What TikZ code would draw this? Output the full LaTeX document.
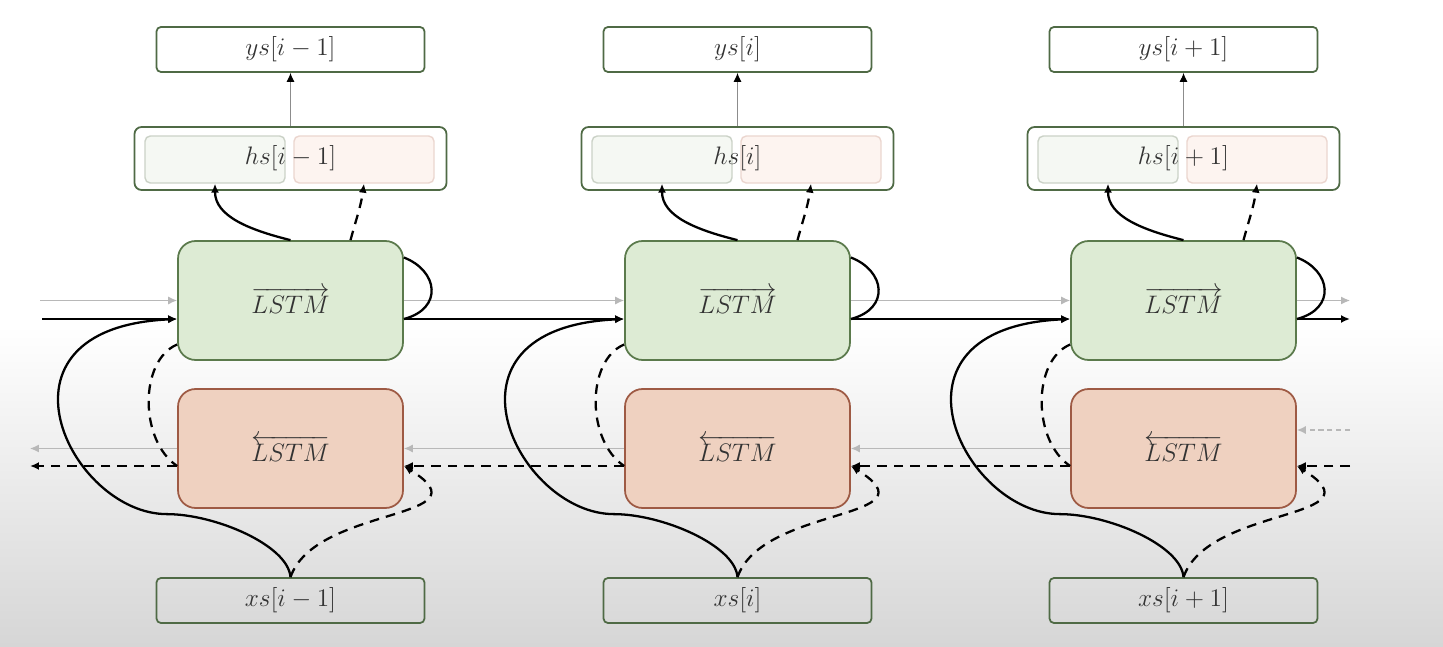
\documentclass[tikz,border=0pt]{standalone}
\usepackage{amsmath}
\usetikzlibrary{arrows.meta,calc}

\definecolor{fwfill}{HTML}{DDEBD4}
\definecolor{fwline}{HTML}{5B7A4C}
\definecolor{bwfill}{HTML}{EFD1C0}
\definecolor{bwline}{HTML}{9E5A44}
\definecolor{boxline}{HTML}{4F6A45}
\definecolor{hlfill}{HTML}{F5F8F3}
\definecolor{hlline}{HTML}{CBD2C7}
\definecolor{hrfill}{HTML}{FDF4F0}
\definecolor{hrline}{HTML}{EBD6CF}
\definecolor{bgbot}{HTML}{D6D6D6}
\definecolor{txt}{HTML}{333333}

\begin{document}
\begin{tikzpicture}[x=0.02cm, y=0.02cm,
    every node/.style={font=\fontsize{15}{17}\selectfont, text=txt},
    io/.style={rectangle, rounded corners=2.5pt, draw=boxline, line width=1pt,
               minimum width=5.36cm, minimum height=0.9cm, inner sep=0pt},
    hsbox/.style={io, rounded corners=4pt, minimum width=6.24cm, minimum height=1.26cm},
    half/.style={rectangle, rounded corners=3pt, line width=0.8pt,
                 minimum width=2.8cm, minimum height=0.94cm},
    fw/.style={rectangle, rounded corners=10pt, draw=fwline, fill=fwfill, line width=1pt,
               minimum width=4.5cm, minimum height=2.38cm, font=\fontsize{14}{16}\selectfont},
    bw/.style={fw, draw=bwline, fill=bwfill},
    e/.style={-{Latex[length=1.8mm, width=1.6mm]}},
    sol/.style={line width=1.3pt},
    dsh/.style={line width=1.3pt, dash pattern=on 5.5pt off 4pt},
    gl/.style={draw=black!28, line width=0.7pt, -{Latex[length=1.8mm, width=1.6mm]}},
    up/.style={draw=black!45, line width=0.6pt, -{Latex[length=1.8mm, width=1.6mm, color=black]}},
  ]
  % screen background
  \useasboundingbox (0,0) rectangle (1443,646);
  \fill[white] (0,0) rectangle (1443,646);
  \shade[top color=white, bottom color=bgbot] (0,0) rectangle (1443,320);

  % column i-1
  \node[io, fill=white] (ys1) at (290.5, 596.5) {$ys[i-1]$};
  \node[half, fill=hlfill, draw=hlline] (hl1) at (215, 486.5) {};
  \node[half, fill=hrfill, draw=hrline] (hr1) at (364, 486.5) {};
  \node[hsbox] (hs1) at (290.5, 487.5) {$hs[i-1]$};
  \node[fw] (fw1) at (290.5, 345.5) {$\overrightarrow{LSTM}$};
  \node[bw] (bw1) at (290.5, 197.5) {$\overleftarrow{LSTM}$};
  \node[io] (xs1) at (290.5, 45.5) {$xs[i-1]$};

  % column i
  \node[io, fill=white] (ys2) at (737.5, 596.5) {$ys[i]$};
  \node[half, fill=hlfill, draw=hlline] (hl2) at (662, 486.5) {};
  \node[half, fill=hrfill, draw=hrline] (hr2) at (811, 486.5) {};
  \node[hsbox] (hs2) at (737.5, 487.5) {$hs[i]$};
  \node[fw] (fw2) at (737.5, 345.5) {$\overrightarrow{LSTM}$};
  \node[bw] (bw2) at (737.5, 197.5) {$\overleftarrow{LSTM}$};
  \node[io] (xs2) at (737.5, 45.5) {$xs[i]$};

  % column i+1
  \node[io, fill=white] (ys3) at (1183.5, 596.5) {$ys[i+1]$};
  \node[half, fill=hlfill, draw=hlline] (hl3) at (1108, 486.5) {};
  \node[half, fill=hrfill, draw=hrline] (hr3) at (1257, 486.5) {};
  \node[hsbox] (hs3) at (1183.5, 487.5) {$hs[i+1]$};
  \node[fw] (fw3) at (1183.5, 345.5) {$\overrightarrow{LSTM}$};
  \node[bw] (bw3) at (1183.5, 197.5) {$\overleftarrow{LSTM}$};
  \node[io] (xs3) at (1183.5, 45.5) {$xs[i+1]$};

  \coordinate (fin) at (42, 327);
  \coordinate (fout) at (1350, 327);
  \coordinate (gin) at (40, 345.5);
  \coordinate (gout) at (1350, 345.5);
  \coordinate (bin) at (1350, 180);
  \coordinate (bout) at (30, 180);
  \coordinate (gbin) at (1350, 216);
  \coordinate (gbout) at (30, 197.5);

  % forward chain
  \draw[gl] (gin) -- (fw1.west);
  \draw[gl] (fw1.east) -- (fw2.west);
  \draw[gl] (fw2.east) -- (fw3.west);
  \draw[gl] (fw3.east) -- (gout);
  \draw[sol, e] (fin) -- (fw1.west |- fin);
  \draw[sol, e] (fw1.east |- fin) -- (fw2.west |- fin);
  \draw[sol, e] (fw2.east |- fin) -- (fw3.west |- fin);
  \draw[sol, e] (fw3.east |- fin) -- (fout);

  % backward chain
  \draw[gl, densely dashed] (gbin) -- (bw3.east |- gbin);
  \draw[gl] (bw3.west) -- (bw2.east);
  \draw[gl] (bw2.west) -- (bw1.east);
  \draw[gl] (bw1.west) -- (gbout);
  \draw[dsh, e] (bin) -- (bw3.east |- bin);
  \draw[dsh, e] (bw3.west |- bin) -- (bw2.east |- bin);
  \draw[dsh, e] (bw2.west |- bin) -- (bw1.east |- bin);
  \draw[dsh, e] (bw1.west |- bin) -- (bout);

  % loops, column i-1
  \draw[sol] ($(fw1.east)+(0,43)$) .. controls ($(fw1.east)+(34,30)$) and ($(fw1.east)+(40,-8)$) .. (fw1.east |- fin);
  \draw[dsh] ($(fw1.west)+(0,-44)$) .. controls ($(fw1.west)+(-38,-60)$) and ($(bw1.west)+(-38,8)$) .. (bw1.west |- bin);
  \draw[sol, e] (xs1.north) .. controls ($(xs1.north)+(-2.5,32)$) and ($(xs1.north)+(-75.5,63)$) .. ($(xs1.north)+(-123.5,63)$)
    .. controls ($(xs1.north)+(-220.5,63)$) and ($(fw1.west)+(-198,-27.5)$) .. (fw1.west |- fin);
  \draw[dsh, e] (xs1.north) .. controls ($(xs1.north)+(25,72)$) and ($(bw1.east)+(87,-72)$) .. (bw1.east |- bin);
  \draw[sol, e] (fw1.north) .. controls ($(fw1.north)+(-40,10)$) and ($(hl1.south)+(0,-33)$) .. (hl1.south);
  \draw[dsh, e] ($(fw1.north)+(60,0)$) .. controls ($(fw1.north)+(66,22)$) and ($(hr1.south)+(-3,-22)$) .. (hr1.south);
  \draw[up] (hs1.north) -- (ys1.south);

  % loops, column i
  \draw[sol] ($(fw2.east)+(0,43)$) .. controls ($(fw2.east)+(34,30)$) and ($(fw2.east)+(40,-8)$) .. (fw2.east |- fin);
  \draw[dsh] ($(fw2.west)+(0,-44)$) .. controls ($(fw2.west)+(-38,-60)$) and ($(bw2.west)+(-38,8)$) .. (bw2.west |- bin);
  \draw[sol, e] (xs2.north) .. controls ($(xs2.north)+(-2.5,32)$) and ($(xs2.north)+(-75.5,63)$) .. ($(xs2.north)+(-123.5,63)$)
    .. controls ($(xs2.north)+(-220.5,63)$) and ($(fw2.west)+(-198,-27.5)$) .. (fw2.west |- fin);
  \draw[dsh, e] (xs2.north) .. controls ($(xs2.north)+(25,72)$) and ($(bw2.east)+(87,-72)$) .. (bw2.east |- bin);
  \draw[sol, e] (fw2.north) .. controls ($(fw2.north)+(-40,10)$) and ($(hl2.south)+(0,-33)$) .. (hl2.south);
  \draw[dsh, e] ($(fw2.north)+(60,0)$) .. controls ($(fw2.north)+(66,22)$) and ($(hr2.south)+(-3,-22)$) .. (hr2.south);
  \draw[up] (hs2.north) -- (ys2.south);

  % loops, column i+1
  \draw[sol] ($(fw3.east)+(0,43)$) .. controls ($(fw3.east)+(34,30)$) and ($(fw3.east)+(40,-8)$) .. (fw3.east |- fin);
  \draw[dsh] ($(fw3.west)+(0,-44)$) .. controls ($(fw3.west)+(-38,-60)$) and ($(bw3.west)+(-38,8)$) .. (bw3.west |- bin);
  \draw[sol, e] (xs3.north) .. controls ($(xs3.north)+(-2.5,32)$) and ($(xs3.north)+(-75.5,63)$) .. ($(xs3.north)+(-123.5,63)$)
    .. controls ($(xs3.north)+(-220.5,63)$) and ($(fw3.west)+(-198,-27.5)$) .. (fw3.west |- fin);
  \draw[dsh, e] (xs3.north) .. controls ($(xs3.north)+(25,72)$) and ($(bw3.east)+(87,-72)$) .. (bw3.east |- bin);
  \draw[sol, e] (fw3.north) .. controls ($(fw3.north)+(-40,10)$) and ($(hl3.south)+(0,-33)$) .. (hl3.south);
  \draw[dsh, e] ($(fw3.north)+(60,0)$) .. controls ($(fw3.north)+(66,22)$) and ($(hr3.south)+(-3,-22)$) .. (hr3.south);
  \draw[up] (hs3.north) -- (ys3.south);
\end{tikzpicture}
\end{document}
